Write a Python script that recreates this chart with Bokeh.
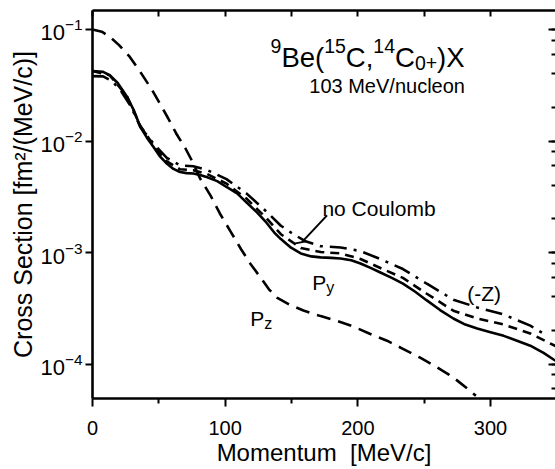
import numpy as np
from bokeh.plotting import figure
from bokeh.models import Range1d, LogAxis, LinearAxis, FixedTicker, LogTicker, Label, CustomJSTickFormatter, LogTickFormatter
from bokeh.embed import file_html
from bokeh.resources import INLINE

FONT = "Liberation Sans"

# ---- data ----
x_py = [0, 8, 13, 19, 26, 31, 36, 41, 46, 51, 56, 61, 66, 71, 76, 81, 86, 94, 101, 109, 116, 124, 131, 137,
        142, 149, 157, 165, 172, 180, 187, 195, 202, 210, 217, 226, 234, 243, 252, 262, 272, 281, 290, 300,
        310, 320, 330, 340, 349]
y_py = [0.04236, 0.04169, 0.03890, 0.03311, 0.02489, 0.01905, 0.01340, 0.01072, 0.00885, 0.00724, 0.00628,
        0.00562, 0.00527, 0.00515, 0.00511, 0.00495, 0.00475, 0.00437, 0.00387, 0.00339, 0.00282, 0.00229,
        0.00186, 0.00151, 0.00132, 0.00112, 0.000982, 0.000923, 0.000904, 0.000895, 0.000885, 0.000851,
        0.000798, 0.000724, 0.000662, 0.000589, 0.000527, 0.000447, 0.000372, 0.000305, 0.000256, 0.000226,
        0.000208, 0.000193, 0.000179, 0.000162, 0.000146, 0.000126, 0.000107]

x_pz = [0, 7, 13, 20, 28, 36, 45, 51, 57, 63, 70, 76, 81, 89, 96, 104, 112, 119, 127, 133, 139, 149, 159,
        172, 184, 197, 209, 222, 234, 247, 260, 268, 275, 282, 289]
y_pz = [0.1, 0.0955, 0.0861, 0.0724, 0.0570, 0.0417, 0.0286, 0.0214, 0.0160, 0.01175, 0.00861, 0.00631,
        0.00463, 0.00324, 0.00224, 0.00155, 0.00107, 0.000794, 0.000589, 0.000468, 0.000395, 0.000339,
        0.000302, 0.000269, 0.000245, 0.000216, 0.000187, 0.000162, 0.000137, 0.000114, 0.0000929,
        0.0000813, 0.0000710, 0.0000610, 0.0000519]

x_nocoul = [0, 13, 26, 36, 46, 56, 66, 76, 86, 101, 116, 131, 142, 157, 172, 187, 202, 217, 234, 252, 272,
            290, 310, 330, 349]
y_nocoul = [0.04236, 0.03890, 0.02518, 0.01371, 0.00916, 0.00658, 0.00558, 0.00547, 0.00509, 0.00415,
            0.00305, 0.00204, 0.00146, 0.00110, 0.00101, 0.000982, 0.000875, 0.000726, 0.000592, 0.000427,
            0.000301, 0.000256, 0.000226, 0.000188, 0.000145]

x_negz = [0, 8, 15, 22, 29, 36, 46, 56, 66, 76, 86, 101, 116, 131, 142, 150, 160, 172, 187, 202, 217, 234,
          252, 272, 290, 310, 330, 343]
y_negz = [0.0382, 0.0380, 0.0343, 0.0275, 0.0204, 0.01340, 0.00948, 0.00705, 0.00605, 0.00593, 0.00552,
          0.00455, 0.00339, 0.00234, 0.00174, 0.00150, 0.00127, 0.00114, 0.00111, 0.00103, 0.000873,
          0.000711, 0.000525, 0.000378, 0.000322, 0.000278, 0.000221, 0.000178]

x_ticks = [0, 100, 200, 300]
x_minor = [50, 150, 250]
top_ticks = [0, 50, 100, 150, 200, 250, 300]
y_ticks = [1e-4, 1e-3, 1e-2, 1e-1]

p = figure(width=555, height=469, y_axis_type="log",
           x_range=Range1d(0, 349), y_range=Range1d(4.91e-5, 0.148),
           output_backend="svg", toolbar_location=None,
           min_border_left=92, min_border_right=0, min_border_top=10, min_border_bottom=71)
p.outline_line_color = None
p.grid.visible = False
p.background_fill_color = "white"

LW = 2.6
p.line(x_py, y_py, line_color="black", line_width=LW)
p.line(x_pz, y_pz, line_color="black", line_width=LW, line_dash="14 8")
p.line(x_nocoul, y_nocoul, line_color="black", line_width=LW, line_dash="9 6")
p.line(x_negz, y_negz, line_color="black", line_width=LW, line_dash="17 7 3 7")

# bottom axis
xa = p.xaxis[0]
xa.ticker = FixedTicker(ticks=x_ticks, minor_ticks=x_minor)
xa.axis_label = "Momentum\u00a0 [MeV/c]"
xa.axis_line_width = LW
xa.major_tick_line_width = 2
xa.minor_tick_line_width = 2
xa.major_tick_in = 0
xa.major_tick_out = 8
xa.minor_tick_in = 0
xa.minor_tick_out = 5
xa.major_label_standoff = 14
xa.major_label_text_font = FONT
xa.major_label_text_font_size = "20px"
xa.major_label_text_color = "black"
xa.axis_label_text_font = FONT
xa.axis_label_text_font_size = "24px"
xa.axis_label_text_font_style = "normal"
xa.axis_label_text_color = "black"
xa.axis_label_standoff = 1

# left axis
ya = p.yaxis[0]
ya.ticker = FixedTicker(ticks=y_ticks, minor_ticks=[])
ya.formatter = LogTickFormatter()
ya.axis_label = "Cross Section [fm²/(MeV/c)]"
ya.axis_line_width = LW
ya.major_tick_line_width = 2
ya.major_tick_in = 0
ya.major_tick_out = 7
ya.minor_tick_line_color = None
ya.major_label_standoff = 3
ya.major_label_text_font = FONT
ya.major_label_text_font_size = "22px"
ya.major_label_text_color = "black"
ya.axis_label_text_font = FONT
ya.axis_label_text_font_size = "25px"
ya.axis_label_text_font_style = "normal"
ya.axis_label_text_color = "black"
ya.axis_label_standoff = 0

blank = CustomJSTickFormatter(code="return ''")

# top axis
ta = LinearAxis(ticker=FixedTicker(ticks=top_ticks, minor_ticks=[]), formatter=blank,
                axis_line_width=LW, major_tick_line_width=2, major_tick_in=6, major_tick_out=0,
                minor_tick_line_color=None, major_label_text_font_size="1px", major_label_standoff=0)
p.add_layout(ta, "above")

# right axis
ra = LogAxis(ticker=LogTicker(), formatter=blank, axis_line_color=None,
             major_tick_line_width=2, major_tick_in=7, major_tick_out=0,
             minor_tick_line_width=2, minor_tick_in=4, minor_tick_out=0,
             major_label_text_font_size="1px", major_label_standoff=0)
p.add_layout(ra, "right")

# ---- annotations ----
W = {'0': 556, '1': 556, '3': 556, '4': 556, '5': 556, '9': 556, 'B': 667, 'e': 556, '(': 333, ')': 333,
     'C': 722, ',': 278, 'X': 667, '+': 584}

def tw(s, size):
    return sum(W[c] for c in s) * size / 1000.0

def txt(x, y, s, size, dx=0, dy=0):
    p.add_layout(Label(x=x, y=y, text=s, x_offset=dx, y_offset=dy, text_font=FONT,
                       text_font_size=f"{size}px", text_color="black", text_baseline="alphabetic",
                       text_align="left"))

MAIN, SUP = 27.5, 19.5
pieces = [("9", SUP, 11), ("Be(", MAIN, 0), ("15", SUP, 11), ("C,", MAIN, 0), ("14", SUP, 11),
          ("C", MAIN, 0), ("0+", SUP, -6), (")X", MAIN, 0)]
t_x, t_y = 134.2, 10 ** -1.247
off = 0.0
for s, sz, rise in pieces:
    txt(t_x, t_y, s, sz, dx=off, dy=rise)
    off += tw(s, sz)

txt(163.4, 10 ** -1.508, "103 MeV/nucleon", 20)
txt(173.3, 10 ** -2.604, "no Coulomb", 21)
txt(165.7, 10 ** -3.269, "P", 21)
txt(165.7, 10 ** -3.269, "y", 16, dx=14, dy=-5)
txt(118.9, 10 ** -3.592, "P", 21)
txt(118.9, 10 ** -3.592, "z", 16, dx=14, dy=-5)
txt(282.5, 10 ** -3.365, "(-Z)", 21)

# leader line for "no Coulomb"
lead_x = [176.8, 157.9]
lead_y = [10 ** -2.667, 10 ** -2.907]
p.line(lead_x, lead_y, line_color="black", line_width=2)
bar_x = [152.9, 161.1]
bar_y = [10 ** -2.918, 10 ** -2.900]
p.line(bar_x, bar_y, line_color="black", line_width=2)

open("out.html", "w").write(file_html(p, INLINE))
